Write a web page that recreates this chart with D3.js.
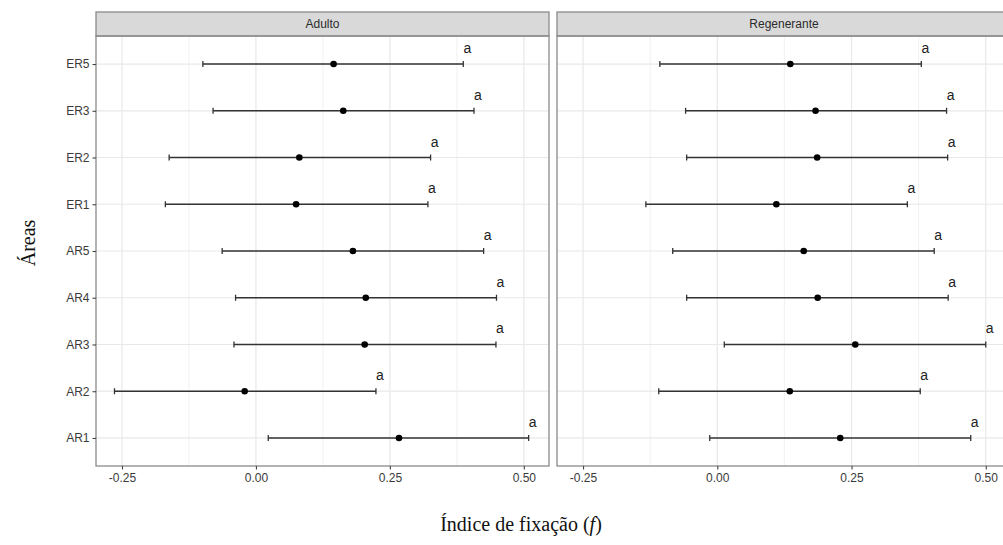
<!DOCTYPE html>
<html>
<head>
<meta charset="utf-8">
<script src="https://cdn.jsdelivr.net/npm/d3@7"></script>
<style>
  body { margin: 0; background: #fff; }
  svg { display: block; }
</style>
</head>
<body>
<div id="figure"></div>
<script>
// areas, top to bottom
var areas = ["ER5", "ER3", "ER2", "ER1", "AR5", "AR4", "AR3", "AR2", "AR1"];
var panels = ["Adulto", "Regenerante"];

// Adulto
var adultoF  = [0.145, 0.163, 0.081, 0.075, 0.181, 0.205, 0.203, -0.021, 0.267];
var adultoLo = [-0.099, -0.080, -0.162, -0.169, -0.063, -0.038, -0.041, -0.264, 0.023];
var adultoHi = [0.387, 0.407, 0.326, 0.321, 0.425, 0.449, 0.448, 0.224, 0.509];

// Regenerante
var regenF  = [0.136, 0.183, 0.186, 0.110, 0.161, 0.187, 0.257, 0.135, 0.229];
var regenLo = [-0.107, -0.059, -0.057, -0.133, -0.083, -0.057, 0.013, -0.109, -0.014];
var regenHi = [0.380, 0.427, 0.429, 0.354, 0.404, 0.430, 0.500, 0.378, 0.472];

var letters = ["a", "a", "a", "a", "a", "a", "a", "a", "a"];
var xTicks = [-0.25, 0, 0.25, 0.5];
var xMinor = [-0.125, 0.125, 0.375];

var w = 1003, h = 545;
var panelTop = 36, panelBottom = 466, stripTop = 12;
var panelX = [[96, 549], [557, 1011]];
var xDomain = [-0.2985, 0.547];
var sans = "Liberation Sans, Arial, sans-serif";

var svg = d3.select("#figure").append("svg")
    .attr("width", w)
    .attr("height", h);

var yScale = d3.scalePoint()
    .domain(areas)
    .range([panelTop, panelBottom])
    .padding(0.6);

var series = [
    {F: adultoF, lo: adultoLo, hi: adultoHi},
    {F: regenF, lo: regenLo, hi: regenHi}
];

panels.forEach(function(name, p) {
    var xScale = d3.scaleLinear().domain(xDomain).range(panelX[p]);
    var x0 = panelX[p][0], x1 = panelX[p][1];
    var g = svg.append("g");

    // grid
    g.selectAll(".minor").data(xMinor).enter().append("line")
        .attr("x1", function(d) { return xScale(d); })
        .attr("x2", function(d) { return xScale(d); })
        .attr("y1", panelTop).attr("y2", panelBottom)
        .attr("stroke", "#eeeeee").attr("stroke-width", 0.8);
    g.selectAll(".major").data(xTicks).enter().append("line")
        .attr("x1", function(d) { return xScale(d); })
        .attr("x2", function(d) { return xScale(d); })
        .attr("y1", panelTop).attr("y2", panelBottom)
        .attr("stroke", "#e8e8e8").attr("stroke-width", 1.2);
    g.selectAll(".hgrid").data(areas).enter().append("line")
        .attr("x1", x0).attr("x2", x1)
        .attr("y1", function(d) { return yScale(d); })
        .attr("y2", function(d) { return yScale(d); })
        .attr("stroke", "#e8e8e8").attr("stroke-width", 1.2);

    // strip
    g.append("rect")
        .attr("x", x0).attr("y", stripTop)
        .attr("width", x1 - x0).attr("height", panelTop - stripTop)
        .attr("fill", "#d9d9d9").attr("stroke", "#8a8a8a").attr("stroke-width", 1.3);
    g.append("text")
        .attr("x", (x0 + x1) / 2).attr("y", (stripTop + panelTop) / 2 + 4)
        .attr("text-anchor", "middle")
        .style("font-family", sans)
        .style("font-size", "12px")
        .attr("fill", "#2b2b2b")
        .text(name);

    // panel border
    g.append("rect")
        .attr("x", x0).attr("y", panelTop)
        .attr("width", x1 - x0).attr("height", panelBottom - panelTop)
        .attr("fill", "none").attr("stroke", "#8a8a8a").attr("stroke-width", 1.3);

    // x axis
    var xAxis = d3.axisBottom(xScale)
        .tickValues(xTicks)
        .tickSize(3.5)
        .tickPadding(4)
        .tickFormat(d3.format(".2f"));
    var ax = g.append("g")
        .attr("transform", "translate(0," + panelBottom + ")")
        .call(xAxis);
    ax.select(".domain").remove();
    ax.selectAll("line").attr("stroke", "#444").attr("stroke-width", 1.1);
    ax.selectAll("text")
        .style("font-family", sans)
        .style("font-size", "12px")
        .attr("fill", "#3a3a3a")
        .text(function(d) { return d3.format(".2f")(d).replace("−", "-"); });

    // y axis only on the first panel
    if (p == 0) {
        var yAxis = d3.axisLeft(yScale).tickSize(3.5).tickPadding(3);
        var ay = g.append("g")
            .attr("transform", "translate(" + x0 + ",0)")
            .call(yAxis);
        ay.select(".domain").remove();
        ay.selectAll("line").attr("stroke", "#444").attr("stroke-width", 1.1);
        ay.selectAll("text")
            .style("font-family", sans)
            .style("font-size", "12px")
            .attr("fill", "#3a3a3a");
    }

    // error bars
    var s = series[p];
    var rows = areas.map(function(a, i) {
        return {area: a, f: s.F[i], lo: s.lo[i], hi: s.hi[i], lab: letters[i]};
    });
    g.selectAll(".bar").data(rows).enter().append("line")
        .attr("x1", function(d) { return xScale(d.lo); })
        .attr("x2", function(d) { return xScale(d.hi); })
        .attr("y1", function(d) { return yScale(d.area); })
        .attr("y2", function(d) { return yScale(d.area); })
        .attr("stroke", "#333").attr("stroke-width", 1.4);
    ["lo", "hi"].forEach(function(k) {
        g.selectAll(".cap" + k).data(rows).enter().append("line")
            .attr("x1", function(d) { return xScale(d[k]); })
            .attr("x2", function(d) { return xScale(d[k]); })
            .attr("y1", function(d) { return yScale(d.area) - 3; })
            .attr("y2", function(d) { return yScale(d.area) + 3; })
            .attr("stroke", "#333").attr("stroke-width", 1.3);
    });
    g.selectAll("circle").data(rows).enter().append("circle")
        .attr("cx", function(d) { return xScale(d.f); })
        .attr("cy", function(d) { return yScale(d.area); })
        .attr("r", 3.3)
        .attr("fill", "black");
    g.selectAll(".lab").data(rows).enter().append("text")
        .attr("x", function(d) { return xScale(d.hi) + 4; })
        .attr("y", function(d) { return yScale(d.area) - 11; })
        .attr("text-anchor", "middle")
        .style("font-family", sans)
        .style("font-size", "14px")
        .attr("fill", "#222")
        .text(function(d) { return d.lab; });
});

// axis titles
svg.append("text")
    .attr("transform", "translate(35,243) rotate(-90)")
    .attr("text-anchor", "middle")
    .style("font-family", "Liberation Serif, Times New Roman, serif")
    .style("font-size", "20px")
    .attr("fill", "#111")
    .text("Áreas");

var xt = svg.append("text")
    .attr("x", 521).attr("y", 531)
    .attr("text-anchor", "middle")
    .style("font-family", "Liberation Serif, Times New Roman, serif")
    .style("font-size", "20px")
    .attr("fill", "#111");
xt.append("tspan").text("Índice de fixação (");
xt.append("tspan").style("font-style", "italic").text("f");
xt.append("tspan").text(")");
</script>
</body>
</html>
